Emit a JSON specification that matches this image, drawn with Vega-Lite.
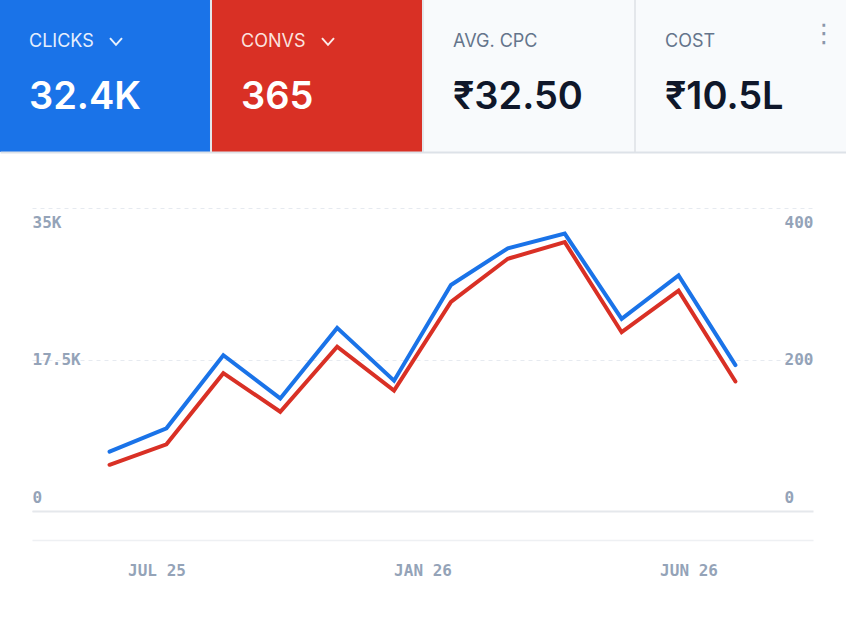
{
  "$schema": "https://vega.github.io/schema/vega-lite/v6.json",
  "padding": 0,
  "background": "#ffffff",
  "spacing": 56,
  "config": {"view": {"stroke": null}, "concat": {"spacing": 0}},
  "datasets": {
    "tiles": [
      {"metric": "CLICKS", "value": "32.4K"},
      {"metric": "CONVS", "value": "365"},
      {"metric": "AVG. CPC", "value": "₹32.50"},
      {"metric": "COST", "value": "₹10.5L"}
    ],
    "series": [
      {"month": "2025-07", "clicks": 6850, "convs": 61},
      {"month": "2025-08", "clicks": 9550, "convs": 88},
      {"month": "2025-09", "clicks": 18000, "convs": 182},
      {"month": "2025-10", "clicks": 13000, "convs": 131},
      {"month": "2025-11", "clicks": 21150, "convs": 217},
      {"month": "2025-12", "clicks": 15050, "convs": 159},
      {"month": "2026-01", "clicks": 26100, "convs": 276},
      {"month": "2026-02", "clicks": 30350, "convs": 333},
      {"month": "2026-03", "clicks": 32050, "convs": 355},
      {"month": "2026-04", "clicks": 22200, "convs": 236},
      {"month": "2026-05", "clicks": 27200, "convs": 291},
      {"month": "2026-06", "clicks": 16850, "convs": 171}
    ],
    "xlabels": [{"lab": "JUL 25"}, {"lab": "JAN 26"}, {"lab": "JUN 26"}]
  },
  "vconcat": [
    {
      "width": 846,
      "height": 152,
      "data": {"name": "tiles"},
      "view": {"fill": "#e4e7eb", "stroke": null},
      "layer": [
        {
          "mark": {"type": "rect"},
          "encoding": {
            "x": {"field": "metric", "type": "nominal", "scale": {"domain": ["CLICKS", "CONVS", "AVG. CPC", "COST"], "paddingInner": 0.0095, "paddingOuter": 0},
                  "axis": {"orient": "bottom", "labels": false, "ticks": false, "domain": true, "domainColor": "#dde2e8", "domainWidth": 2, "grid": false, "title": null}},
            "color": {"field": "metric", "type": "nominal", "scale": {"domain": ["CLICKS", "CONVS", "AVG. CPC", "COST"], "range": ["#1a73e8", "#d93025", "#f8fafc", "#f8fafc"]}, "legend": null}
          }
        },
        {
          "mark": {"type": "text", "align": "left", "baseline": "middle", "dx": 29, "dy": -34, "fontSize": 18, "font": "Inter"},
          "encoding": {
            "x": {"field": "metric", "type": "nominal", "bandPosition": 0},
            "text": {"field": "metric"},
            "color": {"field": "metric", "type": "nominal", "scale": {"domain": ["CLICKS", "CONVS", "AVG. CPC", "COST"], "range": ["#e6effd", "#fbe2df", "#64748b", "#64748b"]}, "legend": null}
          }
        },
        {
          "mark": {"type": "text", "align": "left", "baseline": "middle", "dx": 29, "dy": 22, "fontSize": 38, "fontWeight": 600, "font": "Inter"},
          "encoding": {
            "x": {"field": "metric", "type": "nominal", "bandPosition": 0},
            "text": {"field": "value"},
            "color": {"field": "metric", "type": "nominal", "scale": {"domain": ["CLICKS", "CONVS", "AVG. CPC", "COST"], "range": ["#ffffff", "#ffffff", "#0f172a", "#0f172a"]}, "legend": null}
          }
        },
        {
          "transform": [{"filter": "datum.metric == 'CLICKS' || datum.metric == 'CONVS'"}],
          "mark": {"type": "point", "shape": "M-1,-0.55L0,0.55L1,-0.55", "filled": false, "stroke": "#ffffff", "strokeWidth": 2, "size": 144, "opacity": 0.9, "xOffset": 116, "yOffset": -34.5},
          "encoding": {"x": {"field": "metric", "type": "nominal", "bandPosition": 0}}
        },
        {
          "transform": [{"filter": "datum.metric == 'COST'"}],
          "mark": {"type": "text", "text": "⋮", "align": "center", "baseline": "middle", "dx": 188, "dy": -42, "fontSize": 26, "font": "DejaVu Sans", "color": "#8a97ab"},
          "encoding": {"x": {"field": "metric", "type": "nominal", "bandPosition": 0}}
        }
      ],
      "resolve": {"scale": {"color": "independent"}}
    },
    {
      "spacing": 0,
      "hconcat": [
        {
          "width": 32,
          "height": 303,
          "data": {"values": [{"t": ""}]},
          "mark": {"type": "text"},
          "encoding": {"text": {"field": "t"}}
        },
        {
          "width": 781,
          "height": 303,
          "layer": [
            {
              "data": {"name": "series"},
              "mark": {"type": "line", "color": "#d93025", "strokeWidth": 4, "strokeCap": "round", "strokeJoin": "miter"},
              "encoding": {
                "x": {"field": "month", "type": "ordinal", "scale": {"type": "point", "padding": 0.363, "domain": ["2025-06", "2025-07", "2025-08", "2025-09", "2025-10", "2025-11", "2025-12", "2026-01", "2026-02", "2026-03", "2026-04", "2026-05", "2026-06", "2026-07"]}, "axis": null},
                "y": {"field": "convs", "type": "quantitative", "scale": {"domain": [0, 400], "nice": false},
                      "axis": {"orient": "right", "values": [0, 200, 400], "grid": false, "domain": false, "ticks": false, "tickSize": 0, "labelPadding": -29, "labelAlign": "left", "labelFlush": true, "labelFlushOffset": -6, "labelFont": "DejaVu Sans Mono", "labelFontSize": 16, "labelFontWeight": "bold", "labelColor": "#94a3b8", "title": null}}
              }
            },
            {
              "data": {"name": "series"},
              "mark": {"type": "line", "color": "#1a73e8", "strokeWidth": 4, "strokeCap": "round", "strokeJoin": "miter"},
              "encoding": {
                "x": {"field": "month", "type": "ordinal", "scale": {"type": "point", "padding": 0.363, "domain": ["2025-06", "2025-07", "2025-08", "2025-09", "2025-10", "2025-11", "2025-12", "2026-01", "2026-02", "2026-03", "2026-04", "2026-05", "2026-06", "2026-07"]},
                      "axis": {"orient": "bottom", "labels": false, "ticks": false, "domain": true, "domainColor": "#e5e8ec", "domainWidth": 2, "grid": false, "title": null}},
                "y": {"field": "clicks", "type": "quantitative", "scale": {"domain": [0, 35000], "nice": false},
                      "axis": {"orient": "left", "values": [0, 17500, 35000], "labelExpr": "datum.value == 0 ? '0' : (datum.value / 1000) + 'K'", "grid": true, "gridColor": "#e6eaf0", "gridDash": [4, 4], "gridWidth": 1, "domain": false, "ticks": false, "tickSize": 0, "labelPadding": 0, "labelAlign": "left", "labelFlush": true, "labelFlushOffset": -6, "labelFont": "DejaVu Sans Mono", "labelFontSize": 16, "labelFontWeight": "bold", "labelColor": "#94a3b8", "title": null}}
              }
            },
            {
              "data": {"name": "xlabels"},
              "mark": {"type": "point", "opacity": 0},
              "encoding": {
                "x": {"field": "lab", "type": "ordinal", "scale": {"type": "point", "padding": 0.468, "domain": ["JUL 25", "JAN 26", "JUN 26"]},
                      "axis": {"orient": "bottom", "offset": 29, "domain": true, "domainColor": "#eef0f3", "domainWidth": 1.5, "ticks": false, "tickSize": 0, "labelPadding": 22, "labelAngle": 0, "labelFont": "DejaVu Sans Mono", "labelFontSize": 16, "labelFontWeight": "bold", "labelColor": "#94a3b8", "grid": false, "title": null}}
              }
            }
          ],
          "resolve": {"scale": {"x": "independent", "y": "independent"}, "axis": {"x": "independent", "y": "independent"}}
        }
      ]
    }
  ]
}
